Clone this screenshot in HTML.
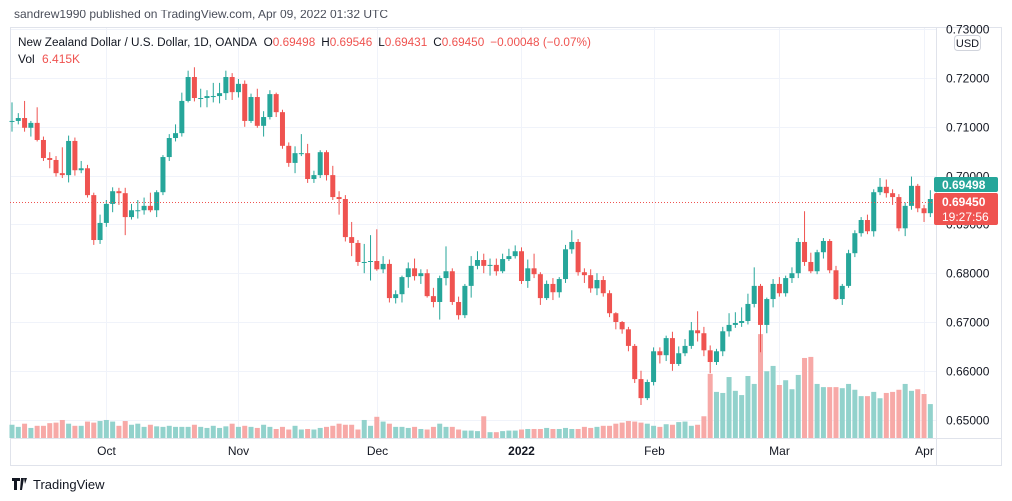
<!DOCTYPE html>
<html><head><meta charset="utf-8"><style>
html,body{margin:0;padding:0;background:#fff;width:1012px;height:501px;overflow:hidden}
svg{display:block;font-family:"Liberation Sans","DejaVu Sans",sans-serif}
</style></head><body>
<svg id="chart" width="1012" height="501" viewBox="0 0 1012 501">
<text x="14" y="18" font-size="12" fill="#4a4e5a">sandrew1990 published on TradingView.com, Apr 09, 2022 01:32 UTC</text>
<rect x="0" y="0" width="1012" height="10" fill="#fff"/>
<rect x="10.5" y="27.5" width="991" height="438" fill="#fff" stroke="#e0e3eb"/>
<g id="grid"></g>
<g id="vol"></g>
<g id="candles"></g>
<line x1="10" y1="202.5" x2="936" y2="202.5" stroke="#ef5350" stroke-width="1" stroke-dasharray="1,2"/>
<line x1="936.5" y1="28" x2="936.5" y2="465" stroke="#e0e3eb"/>
<line x1="10" y1="438.5" x2="1001" y2="438.5" stroke="#e0e3eb"/>
<g id="yaxis"></g>
<g id="xaxis"></g>
<rect x="954.5" y="35.5" width="26" height="15" rx="3" fill="#fff" stroke="#d1d4dc"/>
<text x="967.5" y="47" font-size="11" text-anchor="middle" fill="#131722">USD</text>
<rect x="934" y="177" width="64" height="15" rx="2" fill="#26a69a"/>
<text x="942" y="189" font-size="12" font-weight="bold" fill="#fff">0.69498</text>
<rect x="934" y="193" width="64" height="32" rx="2" fill="#ef5350"/>
<text x="942" y="206" font-size="12" font-weight="bold" fill="#fff">0.69450</text>
<text x="942" y="221" font-size="12" fill="#fff">19:27:56</text>
<text x="18" y="46" font-size="11.75" fill="#131722">New Zealand Dollar / U.S. Dollar, 1D, OANDA <tspan dx="4">O</tspan><tspan fill="#ef5350">0.69498</tspan><tspan dx="6">H</tspan><tspan fill="#ef5350">0.69546</tspan><tspan dx="6">L</tspan><tspan fill="#ef5350">0.69431</tspan><tspan dx="6">C</tspan><tspan fill="#ef5350">0.69450</tspan><tspan dx="6" fill="#ef5350">−0.00048 (−0.07%)</tspan></text>
<text x="18" y="63" font-size="12" fill="#131722">Vol <tspan dx="4" fill="#ef5350">6.415K</tspan></text>
<g>
<path d="M12 478h8v3h-3v9h-3v-9h-2z M21 478h3l-2 12h-2z M24 478h3l-2 6z" fill="#131722"/>
<text x="33" y="489" font-size="13" fill="#131722">TradingView</text>
</g>
</svg>
<script>
const opens=[7112,7112,7118,7098,7108,7073,7036,7032,7005,7001,7071,7011,7015,6960,6868,6903,6942,6968,6964,6915,6929,6929,6938,6929,6966,7038,7077,7087,7153,7202,7159,7159,7163,7163,7169,7202,7171,7188,7112,7161,7102,7120,7167,7130,7061,7026,7046,7046,6993,7001,7048,7001,6956,6952,6874,6862,6823,6823,6825,6808,6819,6749,6757,6792,6810,6794,6800,6753,6741,6790,6804,6741,6714,6774,6815,6827,6815,6817,6804,6829,6835,6845,6784,6810,6798,6749,6778,6761,6788,6849,6864,6802,6796,6769,6786,6759,6718,6700,6685,6651,6583,6544,6577,6640,6632,6667,6614,6636,6651,6683,6677,6642,6618,6640,6681,6694,6698,6702,6737,6774,6694,6747,6778,6759,6790,6800,6864,6823,6804,6843,6866,6806,6747,6774,6841,6882,6909,6886,6966,6977,6964,6956,6892,6938,6979,6933,6923];
const closes=[7112,7118,7098,7108,7073,7036,7032,7005,7001,7071,7011,7015,6960,6868,6903,6942,6968,6964,6915,6929,6929,6938,6929,6966,7038,7077,7087,7153,7202,7159,7159,7163,7163,7169,7202,7171,7188,7112,7161,7102,7120,7167,7130,7061,7026,7046,7046,6993,7001,7048,7001,6956,6952,6874,6862,6823,6823,6825,6808,6819,6749,6757,6792,6810,6794,6800,6753,6741,6790,6804,6741,6714,6774,6815,6827,6815,6817,6804,6829,6835,6845,6784,6810,6798,6749,6778,6761,6788,6849,6864,6802,6796,6769,6786,6759,6718,6700,6685,6651,6583,6544,6577,6640,6632,6667,6614,6636,6651,6683,6677,6642,6618,6640,6681,6694,6698,6702,6737,6774,6694,6747,6778,6759,6790,6800,6864,6823,6804,6843,6866,6806,6747,6774,6841,6882,6909,6886,6966,6977,6964,6956,6892,6938,6979,6933,6923,6952];
const highs=[7150,7128,7153,7112,7140,7080,7048,7040,7058,7082,7078,7030,7022,6965,6920,6950,6976,6975,6975,6942,6950,6955,6965,6970,7042,7085,7105,7170,7215,7222,7178,7175,7190,7190,7215,7210,7198,7195,7168,7178,7132,7175,7170,7135,7068,7060,7085,7065,7010,7052,7052,7020,6968,6960,6905,6868,6860,6878,6890,6835,6828,6765,6795,6822,6830,6808,6808,6770,6795,6855,6810,6752,6778,6835,6845,6840,6830,6830,6840,6850,6857,6853,6828,6840,6802,6785,6790,6792,6858,6888,6870,6810,6808,6800,6794,6765,6720,6702,6690,6655,6600,6582,6648,6648,6672,6680,6650,6665,6700,6722,6690,6652,6645,6690,6718,6720,6730,6758,6812,6778,6750,6788,6792,6795,6812,6872,6927,6842,6848,6872,6870,6815,6778,6848,6888,6915,6920,6972,6995,6992,6972,6962,6945,6998,6983,6940,6970];
const lows=[7090,7105,7090,7080,7070,7030,7015,6998,6995,6986,7000,7005,6955,6858,6860,6895,6925,6940,6878,6910,6912,6920,6925,6915,6960,7030,7070,7080,7150,7152,7140,7140,7150,7148,7155,7155,7160,7100,7108,7098,7080,7115,7120,7055,7018,7005,7040,6985,6985,6995,6990,6950,6920,6865,6835,6815,6800,6785,6805,6800,6740,6738,6740,6770,6785,6778,6750,6730,6705,6775,6735,6705,6708,6750,6808,6800,6795,6795,6800,6825,6830,6778,6770,6790,6735,6745,6745,6750,6780,6840,6795,6780,6760,6755,6752,6710,6685,6676,6640,6575,6530,6540,6570,6615,6620,6600,6610,6630,6645,6660,6630,6595,6612,6630,6670,6688,6690,6695,6730,6638,6677,6730,6752,6752,6780,6790,6815,6800,6798,6830,6800,6745,6735,6770,6833,6875,6880,6875,6960,6955,6940,6886,6876,6930,6925,6905,6915];
const volumes=[2.5,2.1,2.7,1.9,2.3,2.3,2.8,2.9,3.4,2.7,2.3,2.3,3.1,2.9,3.2,3.4,3.1,2.3,3.2,2.5,2.7,2.1,2.5,2.2,2.1,2.3,2.1,2.1,2.1,2.5,2.1,1.9,2.3,1.9,2.2,2.7,2.1,2.3,2.1,1.9,2.5,2.1,1.7,2.1,1.6,2.3,1.6,1.7,1.6,1.9,2.1,2.3,2.7,2.5,2.5,1.6,3.4,2.3,4.0,3.1,2.7,2.1,2.1,1.9,2.1,1.7,1.6,2.1,2.7,2.1,2.1,1.6,1.4,1.4,1.3,4.1,1.1,1.1,1.3,1.4,1.4,1.6,1.7,1.7,1.7,1.9,1.7,1.7,1.9,1.7,1.7,2.1,1.9,2.1,2.3,2.3,2.7,2.9,3.2,3.1,2.9,2.7,2.3,2.1,2.6,2.5,3.0,3.1,2.3,2.5,4.1,12.1,8.7,8.5,11.5,8.9,8.1,11.7,10.2,19.6,12.6,13.6,10,10.9,9.2,11.9,15.1,15.3,10.2,9.6,9.6,9.6,9.4,10.2,9.1,7.9,7.9,8.7,7.5,8.5,8.7,9.1,10.2,8.9,9.2,8.3,6.4];
const priceTicks=[0.73,0.72,0.71,0.70,0.69,0.68,0.67,0.66,0.65];
const priceTickLabels=["0.73000","0.72000","0.71000","0.70000","0.69000","0.68000","0.67000","0.66000","0.65000"];
const monthIdx=[15,36,58,81,102,122,145];
const monthLabels=["Oct","Nov","Dec","2022","Feb","Mar","Apr"];

const NS="http://www.w3.org/2000/svg";
const X0=12, STEP=6.29;
function xAt(i){return X0+STEP*i;}
function yP(p){return 78+(0.72-p)*4880;}
function yV(pips){return yP(pips/10000);}
function yVol(v){return 438-v*5.3;}
function mk(tag,attrs,parent){const e=document.createElementNS(NS,tag);for(const k in attrs)e.setAttribute(k,attrs[k]);parent.appendChild(e);return e;}
const G=document.getElementById('grid'),C=document.getElementById('candles'),V=document.getElementById('vol'),YA=document.getElementById('yaxis'),XA=document.getElementById('xaxis');

priceTicks.forEach((p,k)=>{
  const y=Math.round(yP(p))+0.5;
  const l=mk('line',{x1:11,x2:936,y1:y,y2:y,stroke:'#f0f3fa'},G);
  
  
  const t=mk('text',{x:946,y:y+4,'font-size':12,fill:'#131722'},YA);
  
  
  t.textContent=priceTickLabels[k];
});
monthIdx.forEach((mi,k)=>{
  const x=Math.round(xAt(mi))+0.5;
  const l=mk('line',{x1:x,x2:x,y1:28,y2:438,stroke:'#f0f3fa'},G);
  
  
  const t=mk('text',{x:x,y:455,'font-size':12,'text-anchor':'middle',fill:'#131722'},XA);
  
  
  if(monthLabels[k]==='2022')t.setAttribute('font-weight','bold');
  t.textContent=monthLabels[k];
});
closes.forEach((c,i)=>{
  const o=opens[i],up=c>=o,x=xAt(i);
  const col=up?'#26a69a':'#ef5350';
  const vb=mk('rect',{x:x-2.5,width:5,y:yVol(volumes[i]),height:438-yVol(volumes[i]),fill:up?'#92d2cc':'#f7a9a7'},V);
  
  
  const g=mk('g',{},C);
  
  
  const w=mk('line',{x1:x,x2:x,y1:yV(highs[i]),y2:yV(lows[i]),stroke:col,'stroke-width':1},g);
  
  
  const top=yV(Math.max(o,c)),bot=yV(Math.min(o,c));
  const b=mk('rect',{x:x-2.5,width:5,y:top,height:Math.max(1,bot-top),fill:col},g);
  
  
});
</script>
</body></html>
